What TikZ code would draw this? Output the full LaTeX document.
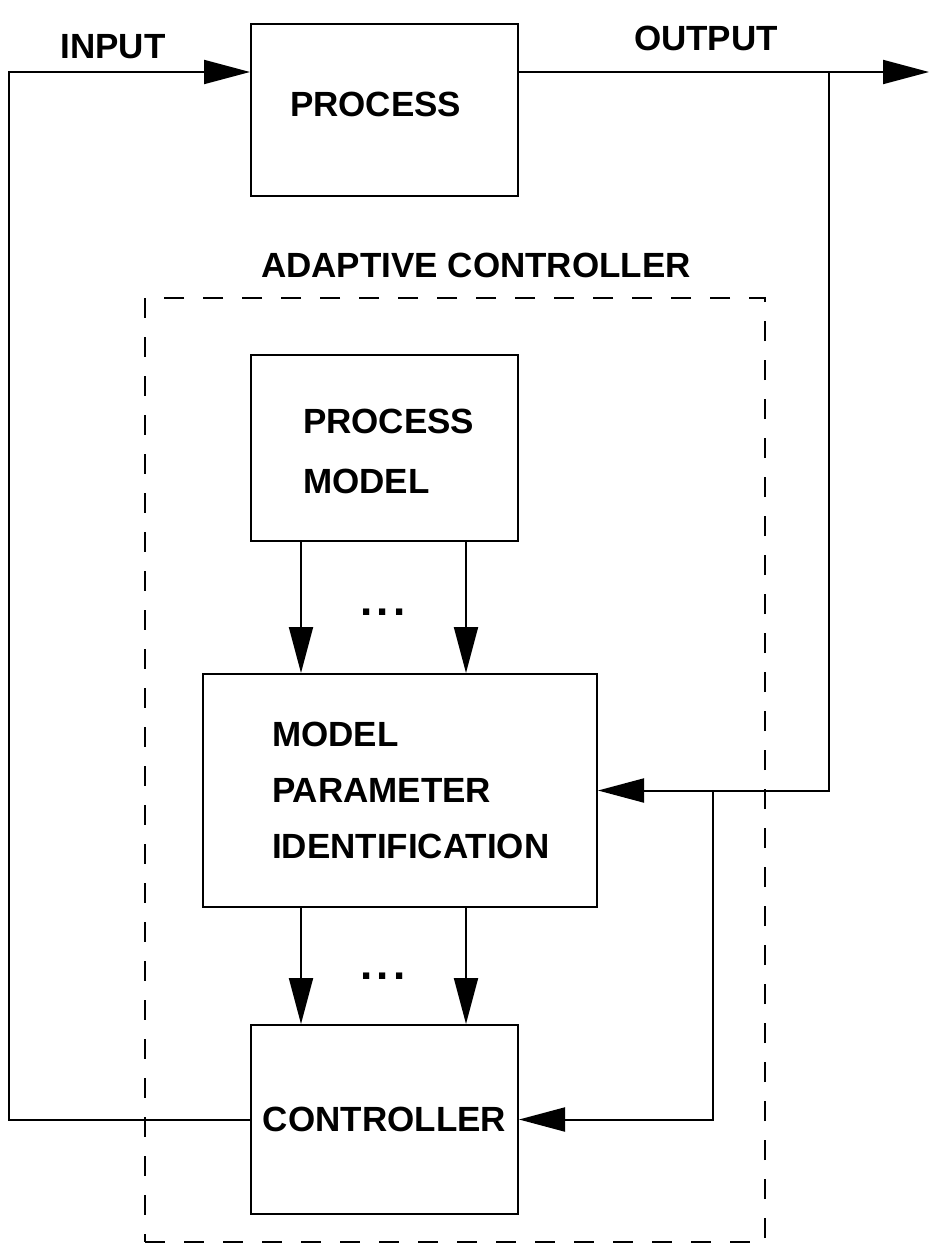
\documentclass[tikz,border=0pt]{standalone}
\usepackage{fontspec}
\setmainfont{Liberation Sans}
\usetikzlibrary{arrows.meta}
\begin{document}
\begin{tikzpicture}[x=1pt,y=-1pt,
  line width=2pt,
  box/.style={draw, line width=2pt, inner sep=0pt},
  lbl/.style={font=\fontsize{35}{60}\selectfont\bfseries, inner sep=0pt},
  dotsty/.style={font=\fontsize{44}{44}\selectfont\bfseries, inner sep=0pt},
  arr/.style={-{Triangle[length=46pt,width=24pt]}},
  frame/.style={draw, line width=2pt, dash pattern=on 20pt off 19pt, inner sep=0pt}]
\useasboundingbox (0,0) rectangle (931,1245);

% blocks
\node[box, minimum width=267pt, minimum height=172pt] (proc) at (384.5,110) {};
\node[frame, minimum width=620pt, minimum height=944pt] (adapt) at (455,770) {};
\node[box, minimum width=267pt, minimum height=186pt] (pm) at (384.5,448) {};
\node[box, minimum width=394pt, minimum height=233pt] (mpi) at (400,790.5) {};
\node[box, minimum width=267pt, minimum height=189pt] (ctrl) at (384.5,1119.5) {};

% texts
\node[lbl] (inlbl) at (113,47) {INPUT};
\node[lbl] (outlbl) at (706,38) {OUTPUT};
\node[lbl] (aclbl) at (476,265) {ADAPTIVE CONTROLLER};
\node[lbl, anchor=west] (proctxt) at (289,104) {PROCESS};
\node[lbl, anchor=west, align=left] (pmtxt) at (302,451) {PROCESS\\MODEL};
\node[lbl, anchor=west, align=left, font=\fontsize{35}{56}\selectfont\bfseries] (mpitxt) at (271,790) {MODEL\\PARAMETER\\IDENTIFICATION};
\node[lbl] (ctrltxt) at (ctrl.center) {CONTROLLER};
\node[dotsty] (dotsA) at (383,612) {.\hspace{4pt}.\hspace{4pt}.};
\node[dotsty] (dotsB) at (383,976) {.\hspace{4pt}.\hspace{4pt}.};

% helper points
\coordinate (loopL) at (9,72);
\coordinate (outEnd) at (929,72);
\coordinate (br1) at (829,72);
\coordinate (colL) at (301,0);
\coordinate (colR) at (466,0);
\path (mpi.east) ++(115,0) coordinate (br2);

% signal lines
\draw[arr] (ctrl.west) -| (loopL) -- (loopL -| proc.west);
\draw[arr] (proc.east |- outEnd) -- (outEnd);
\draw[arr] (br1) |- (mpi.east);
\draw[arr] (br2) |- (ctrl.east);
\draw[arr] (pm.south -| colL) -- (mpi.north -| colL);
\draw[arr] (pm.south -| colR) -- (mpi.north -| colR);
\draw[arr] (mpi.south -| colL) -- (ctrl.north -| colL);
\draw[arr] (mpi.south -| colR) -- (ctrl.north -| colR);
\end{tikzpicture}
\end{document}
